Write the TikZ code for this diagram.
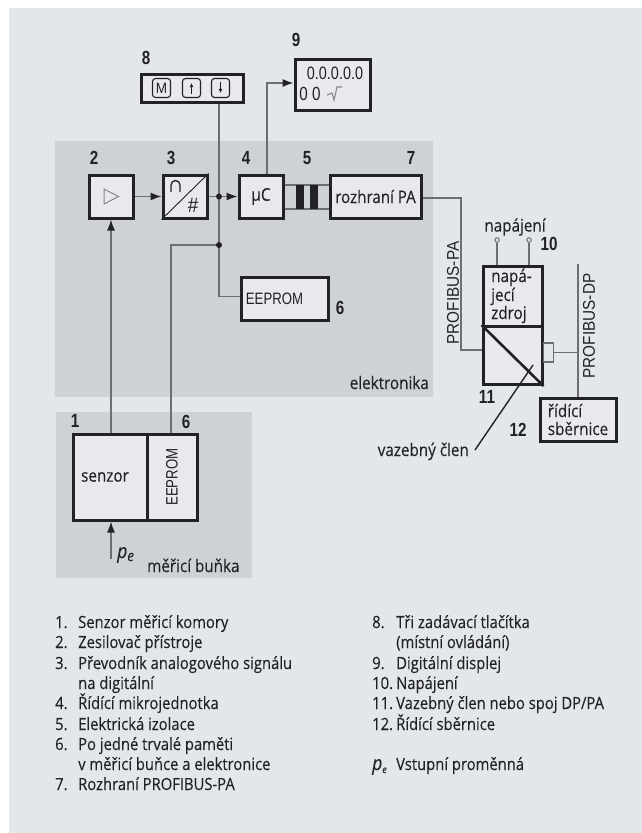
\documentclass[tikz,border=0pt]{standalone}
\usepackage{fontspec}
\usetikzlibrary{arrows.meta}
\setmainfont{Liberation Sans}
\newfontfamily\myr[FakeStretch=0.88,FakeBold=0.15]{Open Sans}
\newfontfamily\hvn[FakeStretch=0.8]{Liberation Sans}
\newfontfamily\hvb[FakeStretch=0.9]{Liberation Sans}
\newfontfamily\numf[FakeStretch=0.8]{Liberation Sans Bold}
\definecolor{bgc}{HTML}{E3E7EA}
\definecolor{panelc}{HTML}{CFD2D5}
\definecolor{boxc}{HTML}{E8E9EC}
\definecolor{inkc}{HTML}{222226}
\definecolor{linec}{HTML}{6C6E70}
\definecolor{glyphc}{HTML}{85888B}
\tikzset{
  x=1pt,y=-1pt,
  blk/.style={draw=inkc,fill=boxc,line width=3pt,inner sep=0pt,text=inkc,align=left},
  conn/.style={draw=linec,line width=1.3pt},
  flow/.style={conn,-{Latex[length=11pt,width=8pt,color=inkc]}},
  numl/.style={inner sep=0pt,text=inkc,font=\numf\fontsize{19}{19}\selectfont},
  txt/.style={inner sep=0pt,text=inkc,font=\myr\fontsize{17.3}{18}\selectfont},
  item/.style={inner sep=0pt,text=inkc,anchor=base west,font=\myr\fontsize{16.8}{18}\selectfont},
  btn/.style={draw=inkc,line width=1.1pt,rounded corners=3pt,inner sep=0pt,minimum width=18pt,minimum height=19pt,text=inkc},
  dotj/.style={circle,fill=inkc,inner sep=0pt,minimum size=6pt},
  term/.style={circle,draw=linec,line width=1pt,fill=bgc,inner sep=0pt,minimum size=4.5pt},
}
\begin{document}
\begin{tikzpicture}
\useasboundingbox (0,0) rectangle (642,833);
\fill[bgc] (9,8) rectangle (642,833);
\fill[panelc] (55,141) rectangle (433,397);
\fill[panelc] (56,412) rectangle (252,578);

% blocks
\node[blk,minimum width=102pt,minimum height=28pt] (b8) at (192.5,88) {};
\node[btn,font=\hvb\fontsize{15}{15}\selectfont] (bm) at (161.5,88) {M};
\node[btn] (bu) at (191.5,88) {};
\node[btn] (bd) at (220.5,88) {};
\draw[inkc,line width=.9pt,-{Latex[length=4pt,width=4pt]}] (bu.south) ++(0,-4) -- ++(0,-11);
\draw[inkc,line width=.9pt,-{Latex[length=4pt,width=4pt]}] (bd.north) ++(0,4) -- ++(0,11);

\node[blk,minimum width=75pt,minimum height=51pt] (b9) at (332.5,84.5) {};
\node[inner sep=0pt,text=inkc,font=\hvn\fontsize{18}{18}\selectfont] (t9a) at (335,73) {0.0.0.0.0};
\node[inner sep=0pt,text=inkc,font=\hvn\fontsize{19}{19}\selectfont] (t9b) at (310,94) {0 0};
\draw[glyphc,line width=1.1pt] (327,95) -- (332,93) -- (334,100) -- (337,87) -- (342,87);

\node[blk,minimum width=44pt,minimum height=43pt] (b2) at (111,196.5) {};
\draw[glyphc,line width=1pt] (104,189) -- (118.5,196.5) -- (104,204) -- cycle;

\node[blk,minimum width=44pt,minimum height=43pt] (b3) at (185,196.5) {};
\draw[inkc,line width=.9pt] (b3.south west) -- (b3.north east);
\draw[inkc,line width=1.3pt] (171,192) -- (171,185) arc[start angle=180,end angle=360,radius=4.5] -- (180,192);
\node[inner sep=0pt,text=inkc,font=\hvb\itshape\fontsize{21}{21}\selectfont] (hash) at (193,205) {\#};

\node[blk,minimum width=44pt,minimum height=43pt,font=\myr\fontsize{17.5}{16}\selectfont] (b4) at (261,196.5) {µC};
\node[blk,minimum width=91pt,minimum height=43pt,font=\myr\fontsize{17.2}{16}\selectfont] (b7) at (375.5,196.5) {rozhraní PA};
\node[blk,minimum width=87pt,minimum height=43pt,font=\hvn\fontsize{16.5}{16}\selectfont,align=left] (b6) at (284.5,298.5) {EEPROM\hspace*{20pt}};

\node[blk,minimum width=74pt,minimum height=86pt,font=\myr\fontsize{17.3}{16}\selectfont] (sen) at (110,477) {senzor\hspace*{10pt}};
\node[blk,minimum width=50pt,minimum height=86pt,font=\hvn\fontsize{16.5}{16}\selectfont] (ee2) at (172,477) {\rotatebox{90}{EEPROM}};

\node[blk,minimum width=59pt,minimum height=60pt,anchor=north] (ps) at (512.5,265) {};
\node[blk,minimum width=59pt,minimum height=58pt,anchor=north] (cp) at (512.5,325) {};
\draw[inkc,line width=2.6pt] (cp.north west) -- (cp.south east);
\node[draw=linec,line width=1.3pt,fill=bgc,minimum width=10pt,minimum height=19pt,inner sep=0pt] (pl) at (548.5,352.5) {};
\node[blk,minimum width=76pt,minimum height=43pt,font=\myr\fontsize{17.3}{18}\selectfont] (b12) at (578,419.5) {řídící\\sběrnice};
\node[txt,anchor=base west,align=left] (tps1) at (491,282) {napá-};
\node[txt,anchor=base west] (tps2) at (491,301) {jecí};
\node[txt,anchor=base west] (tps3) at (491,319) {zdroj};

% isolation
\coordinate (i1a) at (b4.east |- 0,185);
\coordinate (i1b) at (b7.west |- 0,185);
\coordinate (i2a) at (b4.east |- 0,209);
\coordinate (i2b) at (b7.west |- 0,209);
\draw[conn] (i1a) -- (i1b);
\draw[conn] (i2a) -- (i2b);
\fill[inkc] (296,185) rectangle (304,209);
\fill[inkc] (310,185) rectangle (318,209);

% connectors
\coordinate (j1) at (219,196.5);
\coordinate (j2) at (219,245);
\coordinate (j3) at (219,296.5);
\coordinate (c9) at (267,83);
\coordinate (pa1) at (461,198);
\coordinate (pa2) at (461,350);
\coordinate (dpt) at (578,264);
\coordinate (pe) at (111,559);
\coordinate (ob) at (171,245);
\draw[conn] (b8.south -| j1) -- (j3) -- (b6.west |- j3);
\draw[conn] (j2) -- (ob) -- (ee2.north -| ob);
\draw[flow] (b2.east) -- (b3.west);
\draw[conn] (b3.east) -- (j1);
\draw[flow] (j1) -- (b4.west);
\draw[flow] (b2.south |- sen.north) -- (b2.south);
\draw[flow] (b4.north -| c9) -- (c9) -- (b9.west |- c9);
\draw[flow] (pe) -- (pe |- sen.south);
\draw[conn] (b7.east |- pa1) -- (pa1) -- (pa2) -- (cp.west |- pa2);
\draw[conn] (pl.east) -- (pl.east -| dpt);
\draw[conn] (dpt) -- (b12.north -| dpt);
\coordinate (lk1) at (475,450);
\coordinate (lk2) at (533,365);
\draw[inkc,line width=1.4pt] (lk1) -- (lk2);
\node[dotj] (dj1) at (j1) {};
\node[dotj] (dj2) at (j2) {};
\node[term] (s1) at (497,240) {};
\node[term] (s2) at (529,240) {};
\draw[conn] (s1) -- (s1 |- ps.north);
\draw[conn] (s2) -- (s2 |- ps.north);

% number labels
\node[numl] (n8) at (146,58) {8};
\node[numl] (n9) at (296,40) {9};
\node[numl] (n2) at (94,158) {2};
\node[numl] (n3) at (171,158) {3};
\node[numl] (n4) at (246,158) {4};
\node[numl] (n5) at (307,158) {5};
\node[numl] (n7) at (411,158) {7};
\node[numl] (n6a) at (340,308) {6};
\node[numl] (n1) at (75,421) {1};
\node[numl] (n6b) at (186,422) {6};
\node[numl] (n10) at (549,244) {10};
\node[numl] (n11) at (487,397) {11};
\node[numl] (n12) at (518,430) {12};

% text labels
\node[txt] (tnap) at (515,227) {napájení};
\node[txt,anchor=base east] (tel) at (429,389) {elektronika};
\node[txt,anchor=base west] (tmb) at (147,572) {měřicí buňka};
\node[txt,anchor=base east] (tvaz) at (469,456) {vazebný člen};
\node[inner sep=0pt,text=inkc,rotate=90,font=\hvb\fontsize{17}{17}\selectfont] (tpa) at (453,293) {PROFIBUS-PA};
\node[inner sep=0pt,text=inkc,rotate=90,font=\hvb\fontsize{17}{17}\selectfont] (tdp) at (589,326) {PROFIBUS-DP};
\node[inner sep=0pt,text=inkc,anchor=base west,font=\myr\itshape\fontsize{20}{20}\selectfont] (tpe) at (117,558) {p\raisebox{-3pt}{\fontsize{15}{15}\selectfont e}};

% left list
\node[item] (l1n) at (55,628) {1.};  \node[item] (l1) at (78,628) {Senzor měřicí komory};
\node[item] (l2n) at (55,648) {2.};  \node[item] (l2) at (78,648) {Zesilovač přístroje};
\node[item] (l3n) at (55,669) {3.};  \node[item] (l3) at (78,669) {Převodník analogového signálu};
\node[item] (l3b) at (78,689) {na digitální};
\node[item] (l4n) at (55,709) {4.};  \node[item] (l4) at (78,709) {Řídící mikrojednotka};
\node[item] (l5n) at (55,730) {5.};  \node[item] (l5) at (78,730) {Elektrická izolace};
\node[item] (l6n) at (55,750) {6.};  \node[item] (l6) at (78,750) {Po jedné trvalé paměti};
\node[item] (l6b) at (78,770) {v měřicí buňce a elektronice};
\node[item] (l7n) at (55,790) {7.};  \node[item] (l7) at (78,790) {Rozhraní PROFIBUS-PA};
% right list
\node[item] (r8n) at (372,628) {8.};  \node[item] (r8) at (396,628) {Tři zadávací tlačítka};
\node[item] (r8b) at (396,648) {(místní ovládání)};
\node[item] (r9n) at (372,669) {9.};  \node[item] (r9) at (396,669) {Digitální displej};
\node[item] (r10) at (372,689) {10.};  \node[item] (r10t) at (396,689) {Napájení};
\node[item] (r11) at (372,709) {11.};  \node[item] (r11t) at (396,709) {Vazebný člen nebo spoj DP/PA};
\node[item] (r12) at (372,730) {12.};  \node[item] (r12t) at (396,730) {Řídící sběrnice};
\node[inner sep=0pt,text=inkc,anchor=base west,font=\myr\itshape\fontsize{20}{20}\selectfont] (rpe) at (372,770) {p\raisebox{-3pt}{\fontsize{10}{10}\selectfont e}};
\node[item] (rpet) at (396,770) {Vstupní proměnná};
\end{tikzpicture}
\end{document}
